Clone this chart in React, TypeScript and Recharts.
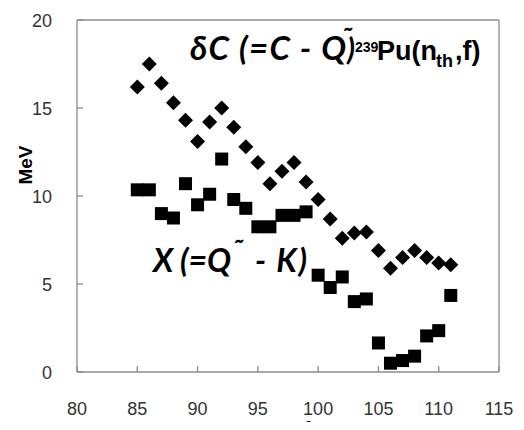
import { ReferenceLine, Scatter, ScatterChart, XAxis, YAxis } from "recharts";

const massNumbers = [85, 86, 87, 88, 89, 90, 91, 92, 93, 94, 95, 96, 97, 98, 99, 100, 101, 102, 103, 104, 105, 106, 107, 108, 109, 110, 111];
const deltaC = [16.2, 17.5, 16.4, 15.3, 14.3, 13.1, 14.2, 15.0, 13.9, 12.8, 11.9, 10.7, 11.4, 11.9, 10.8, 9.8, 8.7, 7.6, 7.9, 7.95, 6.9, 5.9, 6.5, 6.9, 6.5, 6.2, 6.1];
const xEnergy = [10.35, 10.35, 9.0, 8.75, 10.7, 9.5, 10.1, 12.1, 9.8, 9.3, 8.25, 8.25, 8.9, 8.9, 9.1, 5.5, 4.8, 5.4, 4.0, 4.15, 1.65, 0.5, 0.65, 0.9, 2.05, 2.35, 4.35];
const xTicks = [80, 85, 90, 95, 100, 105, 110, 115];
const yTicks = [0, 5, 10, 15, 20];

const AXIS = "#8c8c8c";
const TICK_FONT = "'Liberation Sans', Arial, sans-serif";
const LABEL_FONT = "Lato, 'Open Sans', sans-serif";

const deltaCData = massNumbers.map((a, i) => ({ a, v: deltaC[i] }));
const xData = massNumbers.map((a, i) => ({ a, v: xEnergy[i] }));

const XTick = (props: any) => {
    const { x, y, payload } = props;
    return (
        <g>
            <line x1={x} y1={y} x2={x} y2={y - 6} stroke={AXIS} strokeWidth={1.3} />
            <text x={x} y={y + 37} textAnchor="middle" dominantBaseline="central" fontFamily={TICK_FONT} fontSize={18} fill="#333">
                {payload.value}
            </text>
        </g>
    );
};

const YTick = (props: any) => {
    const { x, y, payload } = props;
    return (
        <g>
            <line x1={x} y1={y} x2={x + 6} y2={y} stroke={AXIS} strokeWidth={1.3} />
            <text x={x - 25} y={y + 1} textAnchor="end" dominantBaseline="central" fontFamily={TICK_FONT} fontSize={18} fill="#333">
                {payload.value}
            </text>
        </g>
    );
};

const Diamond = (props: any) => {
    const { cx, cy } = props;
    const r = 7.5;
    return <polygon points={`${cx},${cy - r} ${cx + r},${cy} ${cx},${cy + r} ${cx - r},${cy}`} fill="#000" />;
};

const Square = (props: any) => {
    const { cx, cy } = props;
    return <rect x={cx - 6.5} y={cy - 6.5} width={13} height={13} fill="#000" />;
};

export default function App() {
    return (
        <div style={{ margin: -8, width: 524, height: 430, background: "#fff", overflow: "hidden" }}>
            <ScatterChart width={524} height={430} margin={{ top: 20, right: 25, bottom: 0, left: 0 }}>
                <XAxis
                    type="number"
                    dataKey="a"
                    domain={[80, 115]}
                    ticks={xTicks}
                    height={58}
                    tickSize={0}
                    tickMargin={0}
                    tickLine={false}
                    axisLine={{ stroke: AXIS, strokeWidth: 1.3 }}
                    tick={<XTick />}
                />
                <YAxis
                    type="number"
                    dataKey="v"
                    domain={[0, 20]}
                    ticks={yTicks}
                    width={77}
                    tickSize={0}
                    tickMargin={0}
                    tickLine={false}
                    axisLine={{ stroke: AXIS, strokeWidth: 1.3 }}
                    tick={<YTick />}
                />
                <ReferenceLine y={20} stroke={AXIS} strokeWidth={1.3} />
                <ReferenceLine x={115} stroke={AXIS} strokeWidth={1.3} />
                <Scatter data={deltaCData} shape={<Diamond />} isAnimationActive={false} />
                <Scatter data={xData} shape={<Square />} isAnimationActive={false} />
                {/* title: δC (=C - Q~) 239Pu(nth,f) */}
                <text fontWeight="bold" fill="#000">
                    <tspan x={190} y={60} fontFamily={LABEL_FONT} fontStyle="italic" fontSize={33} textLength={156} lengthAdjust="spacing">δC (=C - Q</tspan>
                    <tspan x={341} y={48} fontFamily={LABEL_FONT} fontStyle="italic" fontSize={28}>˜</tspan>
                    <tspan x={347} y={60} fontFamily={LABEL_FONT} fontStyle="italic" fontSize={30}>)</tspan>
                    <tspan x={355} y={52} fontFamily={TICK_FONT} fontSize={14}>239</tspan>
                    <tspan x={377} y={60} fontFamily={TICK_FONT} fontSize={27}>Pu(n</tspan>
                    <tspan x={436} y={67} fontFamily={TICK_FONT} fontSize={18}>th</tspan>
                    <tspan x={455} y={60} fontFamily={TICK_FONT} fontSize={27}>,f)</tspan>
                </text>
                <text fontFamily={LABEL_FONT} fontWeight="bold" fontStyle="italic" fontSize={32} fill="#000">
                    <tspan x={153} y={272} textLength={78} lengthAdjust="spacing">X (=Q</tspan>
                    <tspan x={232} y={260} fontSize={28}>˜</tspan>
                    <tspan x={255} y={272} textLength={52} lengthAdjust="spacing">- K)</tspan>
                </text>
                <text x={25} y={165} transform="rotate(-90 25 165)" textAnchor="middle" dominantBaseline="central" fontFamily={TICK_FONT} fontWeight="bold" fontSize={19} fill="#000">
                    MeV
                </text>
                <text x={307} y={434} textAnchor="middle" fontFamily={TICK_FONT} fontStyle="italic" fontWeight="bold" fontSize={18} fill="#000">
                    A
                </text>
            </ScatterChart>
        </div>
    );
}
